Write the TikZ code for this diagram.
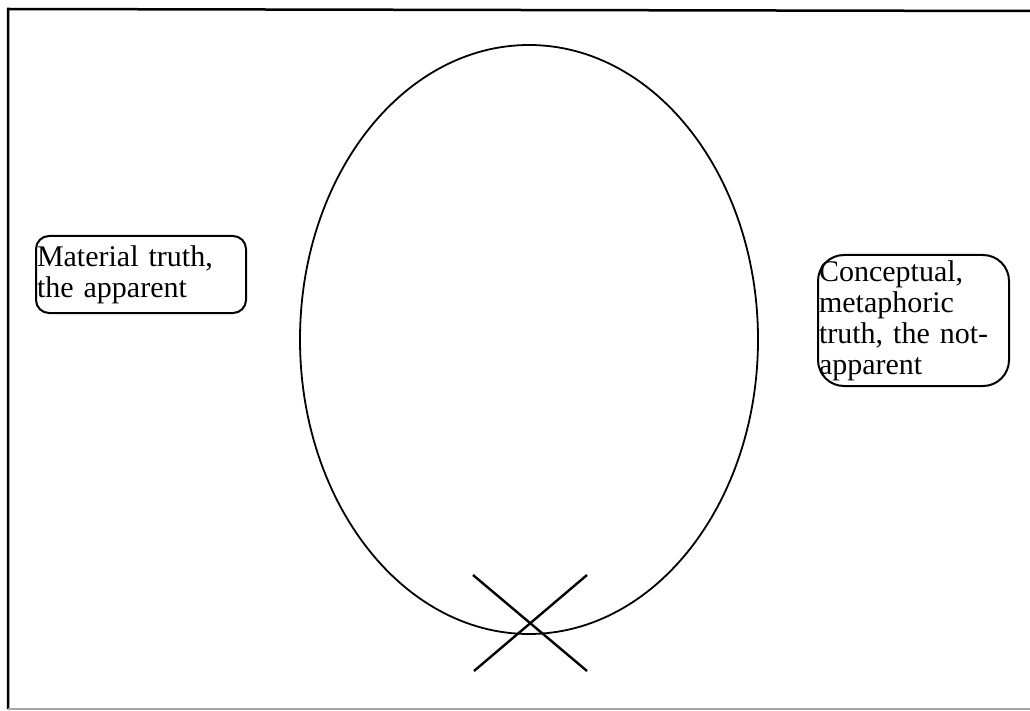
\documentclass[tikz,border=0pt]{standalone}
\usepackage{fontspec}
\setmainfont{Liberation Serif}
\usetikzlibrary{positioning,calc}

\begin{document}
\begin{tikzpicture}[
  x=1pt, y=-1pt,
  frame/.style={draw=black, line width=2.5pt},
  egg/.style={draw=black, line width=1.8pt},
  crossline/.style={draw=black, line width=2.4pt},
  truthbox/.style={draw=black, line width=2pt, align=left, anchor=north west,
                   inner xsep=1pt, inner ysep=0pt,
                   font=\fontsize{30}{31}\selectfont}
]
  \useasboundingbox (0,0) rectangle (1030,711);

  % --- outer frame (right side cut off) ---
  \coordinate (ftr) at (1030,11);
  \coordinate (ftl) at (8,9);
  \coordinate (fbl) at (8,709);
  \coordinate (fbr) at (1030,709);
  \draw[frame] (ftr) -- (ftl) -- (fbl);
  \draw[black!35, line width=1.5pt] (fbl) -- (fbr);

  % --- the oval ---
  \coordinate (eggc) at (529,339.5);
  \draw[egg] (eggc) ellipse [x radius=229, y radius=294.5];

  % --- the two text boxes ---
  \node[truthbox, rounded corners=13pt, text width=208pt, minimum height=77pt]
       (material) at (35,235) {Material truth,\\the apparent};
  \node[truthbox, rounded corners=26pt, text width=189pt, minimum height=131pt]
       (concept) at (817,254) {Conceptual,\\metaphoric\\truth, the not-\\apparent};

  % --- cross at the bottom of the oval ---
  \coordinate (xnw) at (473,575);
  \coordinate (xse) at (587,671);
  \coordinate (xne) at (587,575);
  \coordinate (xsw) at (474,671);
  \draw[crossline] (xnw) -- (xse);
  \draw[crossline] (xne) -- (xsw);

\end{tikzpicture}
\end{document}
